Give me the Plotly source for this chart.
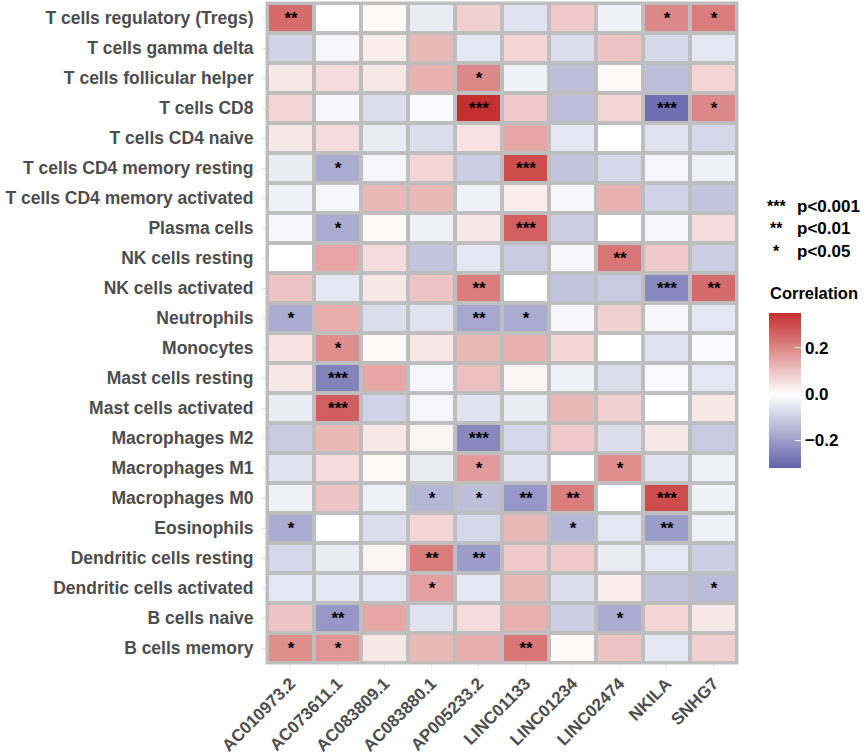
import plotly.graph_objects as go

# immune cell types, top to bottom as in the figure
cells = [
    'T cells regulatory (Tregs)', 'T cells gamma delta', 'T cells follicular helper',
    'T cells CD8', 'T cells CD4 naive', 'T cells CD4 memory resting',
    'T cells CD4 memory activated', 'Plasma cells', 'NK cells resting',
    'NK cells activated', 'Neutrophils', 'Monocytes', 'Mast cells resting',
    'Mast cells activated', 'Macrophages M2', 'Macrophages M1', 'Macrophages M0',
    'Eosinophils', 'Dendritic cells resting', 'Dendritic cells activated',
    'B cells naive', 'B cells memory',
]

genes = ['AC010973.2', 'AC073611.1', 'AC083809.1', 'AC083880.1', 'AP005233.2',
         'LINC01133', 'LINC01234', 'LINC02474', 'NKILA', 'SNHG7']

# correlation values (rows = cells, cols = genes)
corr = [
    [0.25, 0.00, 0.01, -0.04, 0.08, -0.06, 0.09, -0.03, 0.20, 0.22],
    [-0.09, -0.02, 0.03, 0.12, -0.05, 0.07, -0.07, 0.10, -0.08, -0.05],
    [0.04, 0.06, 0.04, 0.13, 0.20, -0.03, -0.13, 0.01, -0.13, 0.07],
    [0.07, -0.02, -0.07, -0.01, 0.35, 0.09, -0.13, 0.07, -0.29, 0.20],
    [0.04, 0.06, -0.04, -0.07, 0.05, 0.15, -0.05, 0.00, -0.06, -0.08],
    [-0.04, -0.17, -0.02, 0.07, -0.10, 0.30, -0.12, -0.08, -0.02, -0.03],
    [-0.03, -0.02, 0.12, 0.12, -0.03, 0.03, -0.02, 0.13, -0.09, -0.12],
    [-0.02, -0.17, 0.01, -0.03, 0.04, 0.27, -0.10, 0.00, -0.02, 0.06],
    [0.00, 0.15, 0.06, -0.12, -0.05, -0.11, -0.02, 0.23, 0.09, -0.10],
    [0.10, -0.05, 0.04, 0.10, 0.22, 0.00, -0.12, -0.11, -0.24, 0.25],
    [-0.17, 0.14, -0.07, -0.06, -0.18, -0.17, -0.02, 0.08, -0.02, -0.05],
    [0.05, 0.19, 0.01, 0.04, 0.12, 0.13, 0.07, 0.00, -0.06, -0.01],
    [0.04, -0.25, 0.15, -0.02, 0.11, 0.02, -0.03, -0.07, -0.01, -0.05],
    [-0.04, 0.27, -0.09, -0.02, -0.06, -0.04, 0.12, 0.08, 0.00, 0.04],
    [-0.11, 0.12, 0.04, 0.02, -0.24, -0.08, 0.09, -0.07, 0.04, -0.11],
    [-0.06, 0.06, 0.01, -0.04, 0.17, -0.06, 0.00, 0.19, -0.06, -0.03],
    [-0.03, 0.10, -0.03, -0.15, -0.13, -0.21, 0.22, 0.00, 0.30, -0.03],
    [-0.17, 0.00, -0.07, 0.07, -0.08, 0.12, -0.15, -0.05, -0.20, -0.03],
    [-0.08, -0.04, 0.02, 0.22, -0.20, 0.09, 0.09, -0.04, -0.05, -0.10],
    [-0.05, -0.05, -0.05, 0.16, -0.05, 0.12, -0.07, 0.03, -0.12, -0.14],
    [0.10, -0.21, 0.15, -0.06, 0.06, 0.13, -0.10, -0.17, 0.07, 0.04],
    [0.19, 0.18, 0.04, 0.12, 0.14, 0.23, 0.01, 0.10, -0.05, 0.08],
]

# significance marks
stars = [
    ['**', '', '', '', '', '', '', '', '*', '*'],
    ['', '', '', '', '', '', '', '', '', ''],
    ['', '', '', '', '*', '', '', '', '', ''],
    ['', '', '', '', '***', '', '', '', '***', '*'],
    ['', '', '', '', '', '', '', '', '', ''],
    ['', '*', '', '', '', '***', '', '', '', ''],
    ['', '', '', '', '', '', '', '', '', ''],
    ['', '*', '', '', '', '***', '', '', '', ''],
    ['', '', '', '', '', '', '', '**', '', ''],
    ['', '', '', '', '**', '', '', '', '***', '**'],
    ['*', '', '', '', '**', '*', '', '', '', ''],
    ['', '*', '', '', '', '', '', '', '', ''],
    ['', '***', '', '', '', '', '', '', '', ''],
    ['', '***', '', '', '', '', '', '', '', ''],
    ['', '', '', '', '***', '', '', '', '', ''],
    ['', '', '', '', '*', '', '', '*', '', ''],
    ['', '', '', '*', '*', '**', '**', '', '***', ''],
    ['*', '', '', '', '', '', '*', '', '**', ''],
    ['', '', '', '**', '**', '', '', '', '', ''],
    ['', '', '', '*', '', '', '', '', '', '*'],
    ['', '**', '', '', '', '', '', '*', '', ''],
    ['*', '*', '', '', '', '**', '', '', '', ''],
]

zmin, zmax = -0.317, 0.352
mid = -zmin / (zmax - zmin)

FONT = 'Liberation Sans, Arial, sans-serif'
GREY = '#BEBEBE'

fig = go.Figure(go.Heatmap(
    z=corr, x=genes, y=cells,
    text=stars, texttemplate='%{text}',
    textfont=dict(family=FONT, size=17, color='black', weight='bold'),
    zmin=zmin, zmax=zmax,
    colorscale=[[0, '#6262AA'], [mid, '#FFFFFF'], [1, '#C42E2E']],
    xgap=4, ygap=4,
    colorbar=dict(
        x=1.068, xanchor='left', xpad=0,
        y=0.4136, yanchor='middle', ypad=0,
        len=0.235, thickness=32, outlinewidth=0,
        tickvals=[-0.2, 0, 0.2], tickformat='.1f',
        ticks='inside', ticklen=6, tickcolor='white',
        tickfont=dict(family=FONT, size=17, color='black', weight='bold'),
    ),
))

fig.add_shape(type='rect', xref='paper', yref='paper', x0=0, x1=1, y0=0, y1=1,
              line=dict(color=GREY, width=3))

fig.add_annotation(text='Correlation', xref='paper', yref='paper', x=1.066, y=0.5606,
                   xanchor='left', yanchor='middle', showarrow=False,
                   font=dict(family=FONT, size=16.5, color='black', weight='bold'))

legend_stars = ['***', '**', '*']
legend_text = ['p<0.001', 'p<0.01', 'p<0.05']
legend_y = [0.6924, 0.6576, 0.6242]
for s, t, yy in zip(legend_stars, legend_text, legend_y):
    fig.add_annotation(text=s, xref='paper', yref='paper', x=1.0851, y=yy,
                       xanchor='center', yanchor='middle', showarrow=False,
                       font=dict(family=FONT, size=16, color='black', weight='bold'))
    fig.add_annotation(text=t, xref='paper', yref='paper', x=1.1234, y=yy,
                       xanchor='left', yanchor='middle', showarrow=False,
                       font=dict(family=FONT, size=17, color='black', weight='bold'))

fig.update_xaxes(showgrid=False, zeroline=False, tickangle=-45, automargin=False,
                 ticks='outside', ticklen=3, tickcolor='#DDDDDD',
                 tickfont=dict(family=FONT, size=17, color='#4D4D4D', weight='bold'))
fig.update_yaxes(showgrid=False, zeroline=False, autorange='reversed', automargin=False,
                 ticks='outside', ticklen=4, tickcolor='#DDDDDD', ticklabelstandoff=5,
                 tickfont=dict(family=FONT, size=17.5, color='#4D4D4D', weight='bold'))

fig.update_layout(
    width=865, height=754,
    margin=dict(l=267, r=128, t=3, b=91),
    plot_bgcolor=GREY, paper_bgcolor='white',
)

# drop the default page margin so the figure sits at the window's corner
fig.write_html('out.html', config={'displayModeBar': False},
               post_script="document.body.style.margin='0';")
